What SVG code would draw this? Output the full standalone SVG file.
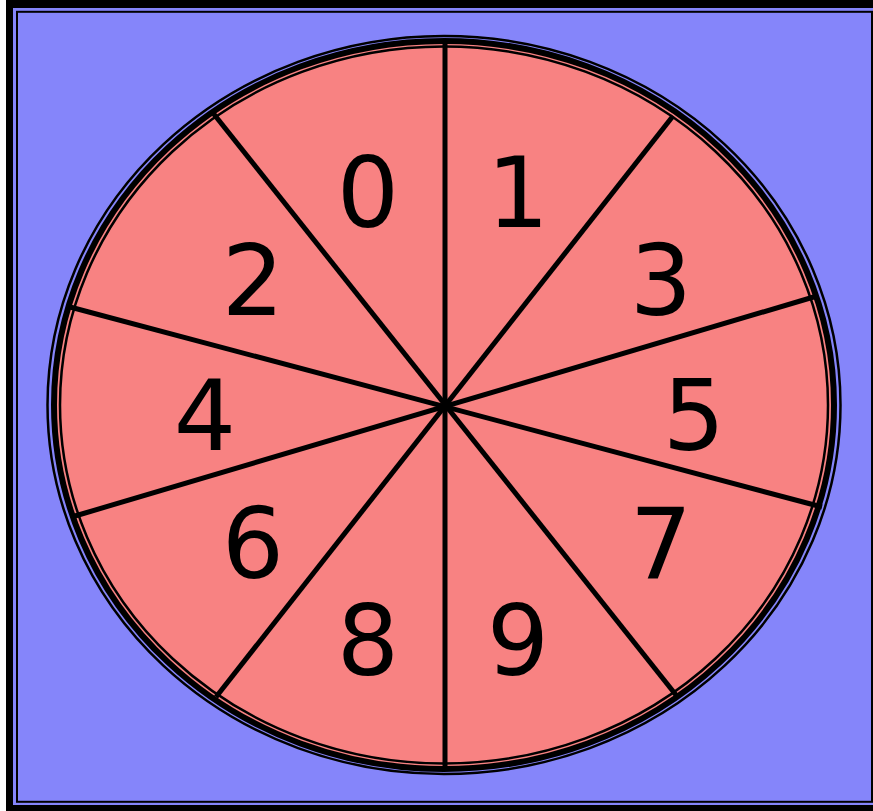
<svg xmlns="http://www.w3.org/2000/svg" width="873" height="811" viewBox="0 0 873 811">
<style>
.spoke{stroke:#000;stroke-width:5;stroke-linecap:butt}
.num{font-family:"DejaVu Sans",Verdana,sans-serif;font-size:98px;fill:#000;text-anchor:middle}
</style>
<rect x="0" y="0" width="873" height="811" fill="#fff"/>
<g id="frame">
<rect x="6" y="0" width="900" height="811" fill="#000"/>
<rect x="13" y="8" width="900" height="797" fill="#8585fa"/>
<rect x="17" y="11.8" width="855" height="790" fill="none" stroke="#000" stroke-width="2"/>
</g>
<g id="wheel">
<ellipse cx="444" cy="405" rx="396.5" ry="369" fill="none" stroke="#000" stroke-width="2.5"/>
<ellipse cx="444" cy="405" rx="390" ry="364" fill="#f88282" stroke="#000" stroke-width="6"/>
<ellipse cx="444" cy="405" rx="384" ry="358.5" fill="none" stroke="#000" stroke-width="2.5"/>
</g>
<g id="connectors">
<line class="spoke" x1="445" y1="43" x2="445" y2="767"/>
<line class="spoke" x1="213" y1="113" x2="676" y2="695"/>
<line class="spoke" x1="673" y1="116" x2="216" y2="697"/>
<line class="spoke" x1="70" y1="307" x2="822" y2="507"/>
<line class="spoke" x1="817" y1="296" x2="75" y2="516"/>
</g>
<g id="n0"><text class="num" x="368" y="227">0</text></g>
<g id="n1"><text class="num" x="518" y="227">1</text></g>
<g id="n2"><text class="num" x="253" y="315">2</text></g>
<g id="n3"><text class="num" x="661" y="315">3</text></g>
<g id="n4"><text class="num" x="205" y="450">4</text></g>
<g id="n5"><text class="num" x="694" y="450">5</text></g>
<g id="n6"><text class="num" x="253" y="578">6</text></g>
<g id="n7"><text class="num" x="661" y="578">7</text></g>
<g id="n8"><text class="num" x="368" y="675">8</text></g>
<g id="n9"><text class="num" x="518" y="675">9</text></g>
</svg>
